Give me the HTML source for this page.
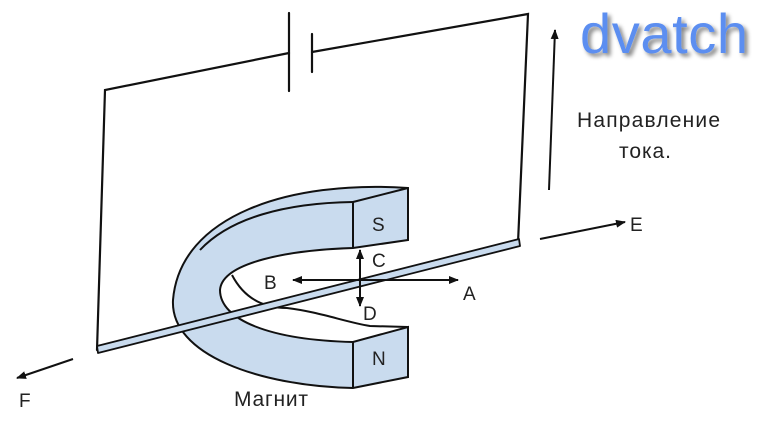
<!DOCTYPE html>
<html><head><meta charset="utf-8"><style>
html,body{margin:0;padding:0;background:#fff;}
svg{display:block;}
text{font-family:"Liberation Sans",Arial,sans-serif;fill:#222;}
</style></head><body>
<svg width="770" height="433" viewBox="0 0 770 433" xmlns="http://www.w3.org/2000/svg">
<defs>
<marker id="ah" markerWidth="10" markerHeight="8" refX="9" refY="4" orient="auto" markerUnits="userSpaceOnUse">
<path d="M0,0 L10,4 L0,8 Z" fill="#111"/></marker>
<filter id="sh" x="-10%" y="-10%" width="130%" height="140%"><feGaussianBlur in="SourceAlpha" stdDeviation="2"/><feOffset dx="3" dy="3"/><feComponentTransfer><feFuncA type="linear" slope="0.5"/></feComponentTransfer><feMerge><feMergeNode/><feMergeNode in="SourceGraphic"/></feMerge></filter>
</defs>
<g stroke="#111" stroke-width="2.2" fill="none" stroke-linecap="round">
<path d="M97,350 L105,90 L289,53"/>
<line x1="289" y1="13" x2="289" y2="91"/>
<line x1="312" y1="34" x2="312" y2="72"/>
<path d="M312,52 L528,14 L518,243"/>
</g>
<!-- magnet -->
<path d="M408,188 C290,180 180,215 173,300 C170,355 260,386 353,388 L408,377 L408,327 L353,342 C270,340 220,320 220,290 C222,262 290,250 353,248 L408,240 L408,190 Z" fill="#c9dbee" stroke="#111" stroke-width="2"/>
<g stroke="#111" stroke-width="2" fill="none">
<path d="M353,202 C285,203 230,218 200,250"/>
<path d="M353,202 L408,188"/>
<line x1="353" y1="202" x2="353" y2="248"/>
<line x1="353" y1="342" x2="353" y2="388"/>
<path d="M232,275 C245,300 265,308 287,308 C320,312 345,322 370,326 L408,327"/>
</g>
<!-- rod -->
<path d="M97,346 L519,239 L520,246 L98,353 Z" fill="#c9dbee" stroke="#111" stroke-width="1.8" stroke-linejoin="round"/>
<g stroke="#111" stroke-width="2" fill="none">
<line x1="370" y1="280" x2="293" y2="280" marker-end="url(#ah)"/>
<line x1="360" y1="280" x2="458" y2="280" marker-end="url(#ah)"/>
<line x1="360" y1="280" x2="360" y2="250" marker-end="url(#ah)"/>
<line x1="360" y1="280" x2="360" y2="306" marker-end="url(#ah)"/>
<line x1="540" y1="239" x2="625" y2="222" marker-end="url(#ah)"/>
<line x1="73" y1="359" x2="17" y2="378" marker-end="url(#ah)"/>
<line x1="549" y1="190" x2="555" y2="30" marker-end="url(#ah)"/>
</g>
<g font-size="19">
<text x="372" y="231">S</text>
<text x="372" y="365">N</text>
<text x="264" y="289">B</text>
<text x="372" y="267">C</text>
<text x="463" y="300">A</text>
<text x="363" y="320">D</text>
<text x="630" y="231">E</text>
<text x="19" y="407">F</text>
</g>
<g font-size="21">
<text x="234" y="406" textLength="74">Магнит</text>
<text x="577" y="127" textLength="143">Направление</text>
<text x="619" y="158" textLength="52">тока.</text>
</g>
<text x="580" y="53" font-size="56" textLength="168" filter="url(#sh)" style="fill:#5b8ef0">dvatch</text>
</svg>
</body></html>
